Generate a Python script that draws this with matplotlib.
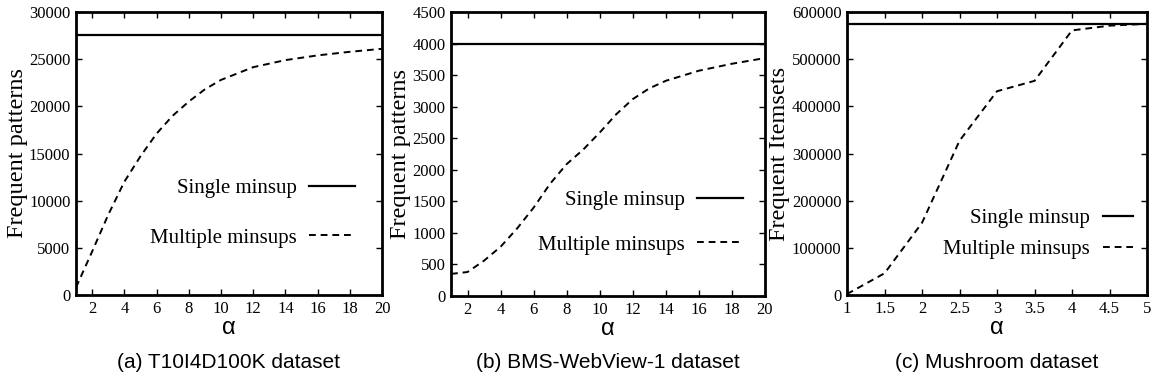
import matplotlib
matplotlib.use('Agg')
import matplotlib.pyplot as plt

# (a) T10I4D100K
alpha_a = [1, 2, 3, 4, 5, 6, 7, 8, 9, 10, 12, 14, 16, 18, 20]
multi_a = [800, 4600, 8500, 12000, 14700, 17100, 19000, 20500, 21800, 22800, 24150, 24900, 25400, 25780, 26100]
single_a = 27600

# (b) BMS-WebView-1
alpha_b = [1, 2, 3, 4, 5, 6, 7, 8, 9, 10, 11, 12, 13, 14, 16, 18, 20]
multi_b = [350, 380, 560, 780, 1070, 1400, 1780, 2090, 2320, 2590, 2880, 3120, 3290, 3410, 3570, 3680, 3770]
single_b = 4000

# (c) Mushroom
alpha_c = [1, 1.5, 2, 2.5, 3, 3.5, 4, 4.5, 5]
multi_c = [2000, 46000, 153000, 327000, 432000, 454000, 561000, 571000, 575000]
single_c = 575000

W, H = 1161, 387
fig = plt.figure(figsize=(W / 100, H / 100), dpi=100)

serif = 'Liberation Serif'
sans = 'Liberation Sans'

panels = [
    dict(box=(76, 12, 306, 283), x=alpha_a, y=multi_a, s=single_a, xlim=(1, 20),
         xticks=[2, 4, 6, 8, 10, 12, 14, 16, 18, 20], ylim=(0, 30000),
         yticks=range(0, 30001, 5000), ylabel='Frequent patterns',
         caption='(a) T10I4D100K dataset', leg=(0.912, 0.29), sp=1.45, hl=2.2),
    dict(box=(451, 12, 314, 284), x=alpha_b, y=multi_b, s=single_b, xlim=(1, 20),
         xticks=[2, 4, 6, 8, 10, 12, 14, 16, 18, 20], ylim=(0, 4500),
         yticks=range(0, 4501, 500), ylabel='Frequent patterns',
         caption='(b) BMS-WebView-1 dataset', leg=(0.93, 0.259), sp=1.2, hl=2.2),
    dict(box=(847, 12, 300, 283), x=alpha_c, y=multi_c, s=single_c, xlim=(1, 5),
         xticks=[1, 1.5, 2, 2.5, 3, 3.5, 4, 4.5, 5], ylim=(0, 600000),
         yticks=range(0, 600001, 100000), ylabel='Frequent Itemsets',
         caption='(c) Mushroom dataset', leg=(0.953, 0.216), sp=0.55, hl=1.45),
]

for p in panels:
    l, t, w, h = p['box']
    ax = fig.add_axes([l / W, (H - t - h) / H, w / W, h / H])
    ax.axhline(p['s'], color='black', lw=1.6, label='Single minsup')
    ax.plot(p['x'], p['y'], color='black', lw=1.4, dashes=(3.5, 2.5),
            label='Multiple minsups')
    ax.set_xlim(*p['xlim'])
    ax.set_ylim(*p['ylim'])
    ax.set_xticks(p['xticks'])
    ax.set_xticklabels([('%g' % v) for v in p['xticks']], fontfamily=serif, fontsize=12)
    ax.set_yticks(list(p['yticks']))
    ax.set_yticklabels([str(v) for v in p['yticks']], fontfamily=serif, fontsize=12)
    ax.tick_params(direction='in', top=True, right=True, length=4, width=1, pad=4)
    for sp in ax.spines.values():
        sp.set_linewidth(2)
    ax.set_ylabel(p['ylabel'], fontfamily=serif, fontsize=17.5, labelpad=1)
    ax.set_xlabel('α', fontfamily=sans, fontsize=17, labelpad=0)
    ax.legend(loc='center right', bbox_to_anchor=p['leg'], frameon=False,
              markerfirst=False, prop={'family': serif, 'size': 15},
              handlelength=p['hl'], labelspacing=p['sp'], handletextpad=0.6,
              borderaxespad=0, borderpad=0)
    cx = (l + w / 2) / W
    fig.text(cx, 1 - 362 / H, p['caption'], ha='center', va='center',
             fontfamily=sans, fontsize=15)

fig.savefig('out.png', dpi=100)
